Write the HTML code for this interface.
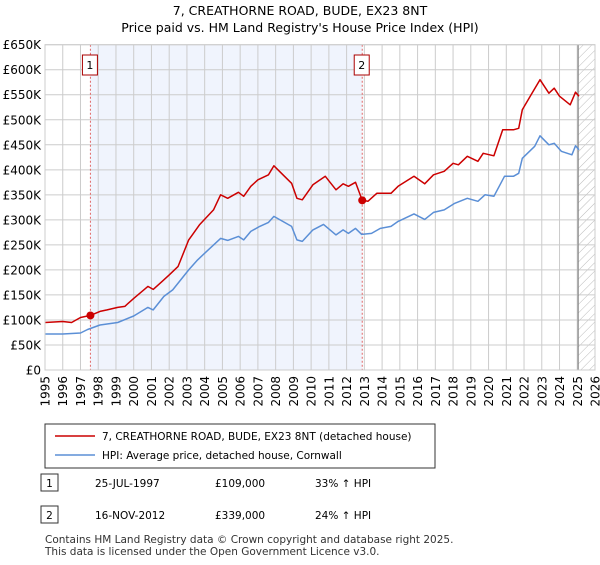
<!DOCTYPE html>
<html><head><meta charset="utf-8"><style>
body{margin:0;background:#fff;font-family:"Liberation Sans","DejaVu Sans",sans-serif;}
svg text{font-family:"DejaVu Sans","Liberation Sans",sans-serif;}
</style></head><body>
<svg id="c" width="600" height="560" viewBox="0 0 600 560" xmlns="http://www.w3.org/2000/svg">
<defs><pattern id="hatch" width="6" height="6" patternUnits="userSpaceOnUse" patternTransform="rotate(45)"><line x1="0" y1="0" x2="0" y2="6" stroke="#bbb" stroke-width="1"/></pattern></defs>
<text x="300" y="15" text-anchor="middle" font-size="12.5">7, CREATHORNE ROAD, BUDE, EX23 8NT</text>
<text x="300" y="32" text-anchor="middle" font-size="12.5">Price paid vs. HM Land Registry's House Price Index (HPI)</text>
<g id="plot"></g>
<g>
<rect x="45" y="424" width="390" height="44" fill="#fff" stroke="#333" stroke-width="1"/>
<line x1="55" y1="436" x2="95" y2="436" stroke="#cc0000" stroke-width="1.5"/>
<text x="102" y="440" font-size="10.5">7, CREATHORNE ROAD, BUDE, EX23 8NT (detached house)</text>
<line x1="55" y1="455" x2="95" y2="455" stroke="#5b8fd6" stroke-width="1.5"/>
<text x="102" y="459" font-size="10.5">HPI: Average price, detached house, Cornwall</text>
</g>
<g font-size="10.5">
<rect x="41" y="474" width="17" height="17" fill="#fff" stroke="#333"/><text x="49.5" y="487" text-anchor="middle">1</text>
<text x="95" y="487">25-JUL-1997</text><text x="215" y="487">£109,000</text><text x="315" y="487">33% ↑ HPI</text>
<rect x="41" y="506" width="17" height="17" fill="#fff" stroke="#333"/><text x="49.5" y="519" text-anchor="middle">2</text>
<text x="95" y="519">16-NOV-2012</text><text x="215" y="519">£339,000</text><text x="315" y="519">24% ↑ HPI</text>
</g>
<text x="45" y="543" font-size="10.5" fill="#333">Contains HM Land Registry data © Crown copyright and database right 2025.</text>
<text x="45" y="555" font-size="10.5" fill="#333">This data is licensed under the Open Government Licence v3.0.</text>
</svg>
<script>
const yTicks=[0,50,100,150,200,250,300,350,400,450,500,550,600,650];
const yTickLabels=["£0","£50K","£100K","£150K","£200K","£250K","£300K","£350K","£400K","£450K","£500K","£550K","£600K","£650K"];
const xYears=[1995,1996,1997,1998,1999,2000,2001,2002,2003,2004,2005,2006,2007,2008,2009,2010,2011,2012,2013,2014,2015,2016,2017,2018,2019,2020,2021,2022,2023,2024,2025,2026];
const hpiYears=[1995,1996,1997,1997.4,1998.1,1999.1,2000,2000.8,2001.1,2001.7,2002.2,2003.1,2003.6,2004.2,2004.9,2005.3,2005.9,2006.2,2006.6,2007.1,2007.6,2007.9,2008.2,2008.9,2009.2,2009.5,2010.1,2010.7,2011.4,2011.8,2012.1,2012.5,2012.85,2013.4,2013.9,2014.5,2014.9,2015.8,2016.4,2016.9,2017.5,2018.1,2018.8,2019.4,2019.8,2020.3,2020.9,2021.4,2021.7,2021.9,2022.6,2022.9,2023.4,2023.7,2024.1,2024.7,2024.9,2025.1];
const hpiValues=[72,72,74,81,90,95,108,125,120,147,160,200,220,240,263,259,267,260,277,287,295,307,301,287,260,257,280,291,270,280,273,283,271,273,283,287,297,312,301,315,320,333,343,337,350,347,387,387,393,423,447,468,450,453,437,430,448,440];
const priceYears=[1995,1996,1996.5,1997,1997.56,1998.1,1998.5,1999.1,1999.5,2000,2000.8,2001.1,2001.6,2002,2002.5,2003.1,2003.3,2003.7,2004.5,2004.9,2005.3,2005.9,2006.2,2006.6,2007,2007.6,2007.9,2008.5,2008.9,2009.2,2009.5,2010.1,2010.8,2011.4,2011.8,2012.1,2012.5,2012.88,2013.2,2013.7,2014.5,2014.9,2015.8,2016.4,2016.9,2017.5,2018,2018.3,2018.8,2019.4,2019.7,2020.3,2020.8,2021.4,2021.7,2021.9,2022.4,2022.9,2023.4,2023.7,2024,2024.6,2024.9,2025.1];
const priceValues=[95,97,95,105,109,117,120,125,127,143,167,161,177,190,207,260,270,290,320,350,343,355,347,367,380,390,408,387,373,343,340,370,387,360,372,367,375,339,337,353,353,367,387,372,390,397,413,410,427,417,433,428,480,480,483,520,550,580,553,563,547,530,555,547];
const saleYears=[1997.56,2012.88];
const saleValues=[109,339];
const saleLabels=["1","2"];
const L=45,R=595,T=44.7,B=370,Y0=1995,Y1=2026,VMAX=650;
const X=y=>L+(y-Y0)/(Y1-Y0)*(R-L);
const Y=v=>B-v/VMAX*(B-T);
const NS="http://www.w3.org/2000/svg";
const g=document.getElementById('plot');
function mk(t,a){const e=document.createElementNS(NS,t);for(const k in a)e.setAttribute(k,a[k]);g.appendChild(e);return e;}
let e;
e=mk('rect',{x:X(saleYears[0]),y:T,width:X(saleYears[1])-X(saleYears[0]),height:B-T,fill:'#f0f4fd'});

e=mk('rect',{x:X(2025.05),y:T,width:R-X(2025.05),height:B-T,fill:'url(#hatch)'});

yTicks.forEach((v,i)=>{
 e=mk('line',{x1:L,x2:R,y1:Y(v),y2:Y(v),stroke:'#ccc','stroke-width':1});
 
 e=mk('text',{x:L-4,y:Y(v)+4.5,'text-anchor':'end','font-size':12});e.textContent=yTickLabels[i];
 
});
xYears.forEach(yr=>{
 e=mk('line',{x1:X(yr),x2:X(yr),y1:T,y2:B,stroke:'#ccc','stroke-width':1});
 
 e=mk('text',{x:0,y:0,'text-anchor':'end','font-size':12,transform:`translate(${X(yr)+4.5},376) rotate(-90)`});e.textContent=yr;
 
});
e=mk('line',{x1:X(2025.05),x2:X(2025.05),y1:T,y2:B,stroke:'#888','stroke-width':1.2});

saleYears.forEach((yr,i)=>{
 e=mk('line',{x1:X(yr),x2:X(yr),y1:T,y2:B,stroke:'#e06666','stroke-width':1,'stroke-dasharray':'2,2'});
 
});
function path(xs,vs,col,name){
 const d=xs.map((yr,i)=>(i?'L':'M')+X(yr).toFixed(1)+','+Y(vs[i]).toFixed(1)).join('');
 e=mk('path',{d:d,fill:'none',stroke:col,'stroke-width':1.5,'stroke-linejoin':'round'});
 
}
path(hpiYears,hpiValues,'#5b8fd6','hpi-line');
path(priceYears,priceValues,'#cc0000','price-line');
saleYears.forEach((yr,i)=>{
 e=mk('circle',{cx:X(yr),cy:Y(saleValues[i]),r:4,fill:'#cc0000'});
 
 e=mk('rect',{x:X(yr)-8,y:55,width:15,height:20,fill:'#fff',stroke:'#aa0000'});
 
 e=mk('text',{x:X(yr)-0.5,y:69,'text-anchor':'middle','font-size':11});e.textContent=saleLabels[i];
 
});
e=mk('rect',{x:L,y:T,width:R-L,height:B-T,fill:'none',stroke:'#ccc'});

</script>
</body></html>
